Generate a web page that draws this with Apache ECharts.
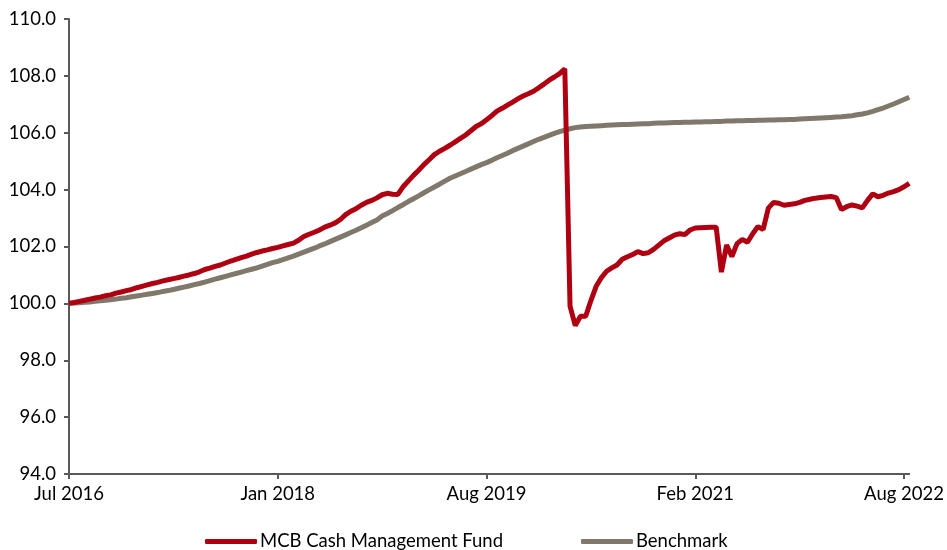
<!DOCTYPE html>
<html>
<head>
<meta charset="utf-8">
<script src="https://cdn.jsdelivr.net/npm/echarts@6/dist/echarts.min.js"></script>
<style>
html,body{margin:0;padding:0;background:#fff;}
#chart{width:947px;height:550px;}
</style>
</head>
<body>
<div id="chart"></div>
<script>
// Category dates: one point every 14 days starting 10 Jul 2016
const startDate = '2016-07-10';
const stepDays = 14;
const pointCount = 162;

const yTickLabels = ['94.0','96.0','98.0','100.0','102.0','104.0','106.0','108.0','110.0'];
const seriesNames = ['MCB Cash Management Fund', 'Benchmark'];

const fundValues = [
100.00,100.03,100.07,100.11,100.15,100.19,100.22,100.27,100.30,100.36,
100.40,100.45,100.49,100.55,100.60,100.65,100.70,100.74,100.79,100.83,
100.87,100.91,100.96,101.00,101.05,101.11,101.19,101.24,101.30,101.35,
101.42,101.49,101.55,101.61,101.66,101.73,101.79,101.84,101.88,101.93,
101.97,102.02,102.07,102.12,102.22,102.35,102.43,102.50,102.58,102.68,
102.75,102.83,102.95,103.12,103.24,103.33,103.45,103.55,103.62,103.71,
103.82,103.87,103.84,103.83,104.10,104.30,104.50,104.68,104.88,105.05,
105.23,105.35,105.45,105.56,105.68,105.80,105.92,106.07,106.22,106.32,
106.46,106.60,106.76,106.86,106.97,107.08,107.19,107.29,107.37,107.46,
107.58,107.71,107.85,107.96,108.08,108.25,99.90,99.22,99.55,99.55,
100.10,100.60,100.90,101.13,101.25,101.35,101.55,101.64,101.72,101.82,
101.75,101.78,101.90,102.05,102.20,102.30,102.40,102.45,102.42,102.58,
102.65,102.66,102.67,102.68,102.68,101.10,102.05,101.65,102.10,102.25,
102.15,102.45,102.70,102.60,103.35,103.55,103.52,103.45,103.48,103.50,
103.55,103.62,103.66,103.70,103.72,103.74,103.76,103.72,103.30,103.40,
103.46,103.42,103.36,103.62,103.85,103.75,103.80,103.88,103.93,104.00,
104.10,104.22
];

const benchmarkValues = [
100.00,100.01,100.02,100.04,100.05,100.07,100.09,100.11,100.13,100.15,
100.18,100.20,100.23,100.26,100.29,100.32,100.35,100.38,100.42,100.45,
100.49,100.53,100.57,100.61,100.66,100.70,100.75,100.80,100.85,100.90,
100.95,101.00,101.05,101.10,101.15,101.20,101.25,101.31,101.37,101.43,
101.48,101.54,101.60,101.66,101.73,101.80,101.87,101.94,102.02,102.09,
102.17,102.25,102.33,102.41,102.49,102.57,102.66,102.75,102.84,102.93,
103.07,103.16,103.26,103.37,103.47,103.58,103.68,103.78,103.89,103.99,
104.09,104.19,104.30,104.40,104.48,104.56,104.64,104.72,104.80,104.88,
104.95,105.03,105.12,105.20,105.28,105.37,105.45,105.53,105.61,105.69,
105.77,105.84,105.91,105.98,106.04,106.09,106.14,106.18,106.20,106.22,
106.23,106.24,106.25,106.26,106.27,106.28,106.29,106.29,106.30,106.31,
106.32,106.32,106.33,106.34,106.34,106.35,106.36,106.36,106.37,106.37,
106.38,106.38,106.39,106.39,106.40,106.40,106.41,106.41,106.42,106.42,
106.43,106.43,106.44,106.44,106.45,106.45,106.46,106.46,106.47,106.47,
106.48,106.49,106.50,106.51,106.52,106.53,106.54,106.55,106.56,106.58,
106.60,106.63,106.66,106.70,106.75,106.81,106.87,106.94,107.01,107.09,
107.17,107.25
];

const monthNames = ['Jan','Feb','Mar','Apr','May','Jun','Jul','Aug','Sep','Oct','Nov','Dec'];
const categories = [];
(function(){
  const d0 = new Date(startDate + 'T00:00:00Z');
  for (let i = 0; i < pointCount; i++) {
    const d = new Date(d0.getTime() + i * stepDays * 86400000);
    categories.push(d.toISOString().slice(0,10));
  }
})();
function fmtDate(s){
  const d = new Date(s + 'T00:00:00Z');
  return monthNames[d.getUTCMonth()] + ' ' + d.getUTCFullYear();
}

const FONT = 'Lato';
const FS = 18.5;
const chart = echarts.init(document.getElementById('chart'));
chart.setOption({
  animation: false,
  backgroundColor: '#ffffff',
  grid: { left: 69, right: 36, top: 19, bottom: 76, containLabel: false },
  legend: {
    data: [seriesNames[0], seriesNames[1]],
    top: 527,
    left: 200,
    itemWidth: 52,
    itemHeight: 5,
    itemGap: 78,
    icon: 'roundRect',
    textStyle: { fontFamily: FONT, fontSize: FS, color: '#000', padding: [0, 0, 0, -2] }
  },
  xAxis: {
    type: 'category',
    data: categories,
    boundaryGap: false,
    axisLine: { show: true, lineStyle: { color: '#595959', width: 2 } },
    axisTick: { show: true, interval: 39, length: 5, lineStyle: { color: '#595959', width: 2 } },
    axisLabel: {
      interval: 39,
      margin: 11,
      fontFamily: FONT, fontSize: FS, color: '#000',
      formatter: function(v){ return fmtDate(v); }
    },
    splitLine: { show: false }
  },
  yAxis: {
    type: 'value',
    min: 94, max: 110, interval: 2,
    axisLine: { show: true, lineStyle: { color: '#595959', width: 2 } },
    axisTick: { show: true, length: 5, lineStyle: { color: '#595959', width: 2 } },
    axisLabel: {
      margin: 13,
      fontFamily: FONT, fontSize: FS, color: '#000',
      formatter: function(v){
        const idx = Math.round((v - 94) / 2);
        return yTickLabels[idx];
      }
    },
    splitLine: { show: false }
  },
  series: [
    {
      name: seriesNames[1],
      type: 'line',
      data: benchmarkValues,
      showSymbol: false,
      symbol: 'none',
      lineStyle: { color: '#7f786b', width: 5 },
      itemStyle: { color: '#7f786b' },
      z: 2
    },
    {
      name: seriesNames[0],
      type: 'line',
      data: fundValues,
      showSymbol: false,
      symbol: 'none',
      lineStyle: { color: '#ae0011', width: 5 },
      itemStyle: { color: '#ae0011' },
      z: 3
    }
  ]
});
</script>
</body>
</html>
